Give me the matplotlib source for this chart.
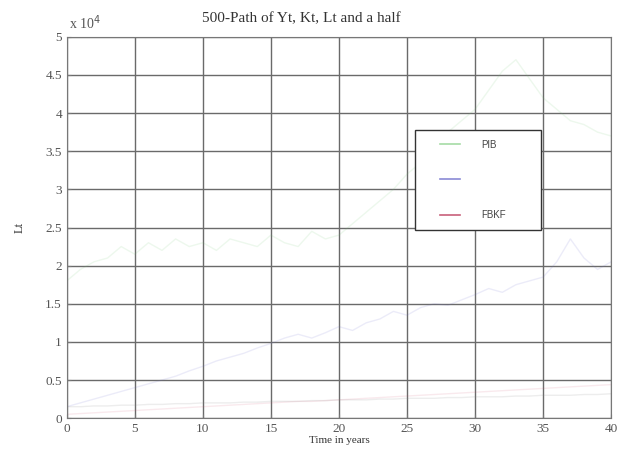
import matplotlib.pyplot as plt
from matplotlib.lines import Line2D
import numpy as np

# time axis (years) and paths, values in units of 10^4
years = list(range(0, 41))

pib = [1.80, 1.95, 2.05, 2.10, 2.25, 2.15, 2.30, 2.20, 2.35, 2.25, 2.30,
       2.20, 2.35, 2.30, 2.25, 2.40, 2.30, 2.25, 2.45, 2.35, 2.40, 2.55,
       2.70, 2.85, 3.00, 3.20, 3.35, 3.55, 3.75, 3.90, 4.05, 4.30, 4.55,
       4.70, 4.45, 4.20, 4.05, 3.90, 3.85, 3.75, 3.70]
kt = [0.15, 0.20, 0.25, 0.30, 0.35, 0.40, 0.45, 0.50, 0.55, 0.62, 0.68,
      0.75, 0.80, 0.85, 0.92, 0.98, 1.05, 1.10, 1.05, 1.12, 1.20, 1.15,
      1.25, 1.30, 1.40, 1.35, 1.45, 1.50, 1.48, 1.55, 1.62, 1.70, 1.65,
      1.75, 1.80, 1.85, 2.05, 2.35, 2.10, 1.95, 2.05]
fbkf = [0.05, 0.06, 0.07, 0.08, 0.09, 0.10, 0.11, 0.12, 0.13, 0.14, 0.15,
        0.16, 0.17, 0.18, 0.19, 0.20, 0.21, 0.22, 0.22, 0.23, 0.24, 0.25,
        0.26, 0.27, 0.28, 0.29, 0.30, 0.31, 0.32, 0.33, 0.34, 0.35, 0.36,
        0.37, 0.38, 0.39, 0.40, 0.41, 0.42, 0.43, 0.44]
lt = [0.15, 0.15, 0.16, 0.16, 0.17, 0.17, 0.18, 0.18, 0.19, 0.19, 0.20,
      0.20, 0.20, 0.21, 0.21, 0.22, 0.22, 0.22, 0.23, 0.23, 0.24, 0.24,
      0.24, 0.25, 0.25, 0.26, 0.26, 0.26, 0.27, 0.27, 0.28, 0.28, 0.28,
      0.29, 0.29, 0.30, 0.30, 0.30, 0.31, 0.31, 0.32]

legend_labels = ['PIB', '', 'FBKF']
legend_colors = ['#a6dca6', '#8a8ad6', '#c8607a']

serif = 'Liberation Serif'
grey = '#555555'

fig = plt.figure(figsize=(6.18, 4.55), dpi=100)
ax = fig.add_axes([0.108, 0.081, 0.881, 0.838])

ax.plot(years, pib, color='#6cc66c', lw=1, alpha=0.12)
ax.plot(years, kt, color='#6b6bd0', lw=1, alpha=0.13)
ax.plot(years, fbkf, color='#d0506e', lw=1, alpha=0.12)
ax.plot(years, lt, color='#888888', lw=1, alpha=0.15)

ax.set_xlim(0, 40)
ax.set_ylim(0, 5)
ax.set_xticks(range(0, 41, 5))
ax.set_yticks(np.arange(0, 5.01, 0.5))
ax.set_yticklabels(['0', '0.5', '1', '1.5', '2', '2.5', '3', '3.5', '4', '4.5', '5'])
ax.grid(True, color='#6a6a6a', lw=1.0)
ax.tick_params(direction='in', length=3, colors='#777777', labelcolor=grey, labelsize=9.5)
for lab in ax.get_xticklabels() + ax.get_yticklabels():
    lab.set_family(serif)
for s in ax.spines.values():
    s.set_color('#777777')

ax.text(0.005, 1.012, r'x 10$^4$', transform=ax.transAxes, fontsize=10,
        family=serif, color=grey, va='bottom', ha='left')
ax.text(0.43, 1.03, '500-Path of Yt, Kt, Lt and a half', transform=ax.transAxes,
        fontsize=11, family=serif, color='#333333', ha='center', va='bottom')
ax.set_xlabel('Time in years', fontsize=8, family=serif, color='#333333', labelpad=1)
ax.set_ylabel('Lt', fontsize=9, family=serif, color='#333333', labelpad=14)

handles = [Line2D([], [], color=c, lw=1.2) for c in legend_colors]
leg = ax.legend(handles, legend_labels, loc='upper left',
                bbox_to_anchor=(0.64, 0.496, 0.231, 0.26), mode='expand',
                fancybox=False, framealpha=1, edgecolor='#333333',
                prop={'family': 'Liberation Sans', 'size': 7},
                labelspacing=2.6, handlelength=4.6, handletextpad=1.15,
                borderpad=1.0, borderaxespad=0)
leg.get_frame().set_linewidth(1.0)
for t in leg.get_texts():
    t.set_color('#444444')
# short sample lines sitting in the right part of each handle box
for ln in leg.get_lines():
    xs = np.asarray(ln.get_xdata(), dtype=float)
    x0, x1 = xs[0], xs[-1]
    ln.set_xdata(np.linspace(x0 + 0.34 * (x1 - x0), x0 + 0.78 * (x1 - x0), len(xs)))

fig.savefig('out.png', dpi=100)
